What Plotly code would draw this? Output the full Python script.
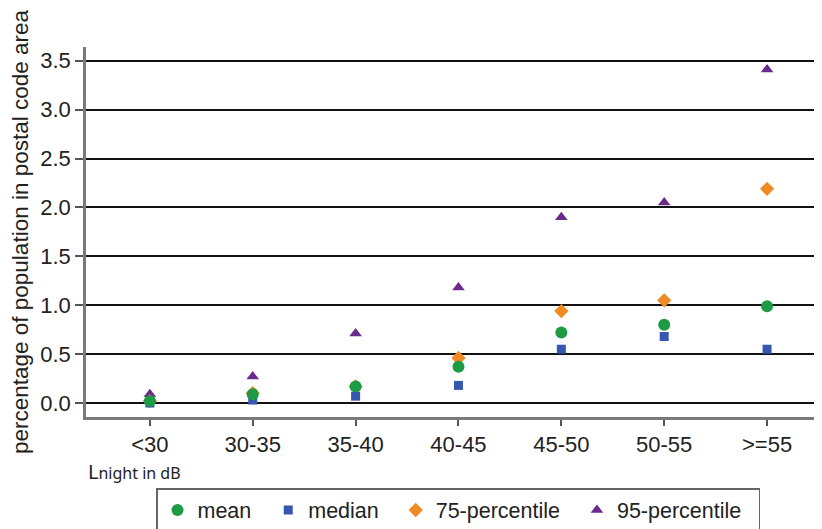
import plotly.graph_objects as go

categories = ["<30", "30-35", "35-40", "40-45", "45-50", "50-55", ">=55"]
mean_vals = [0.02, 0.09, 0.17, 0.37, 0.72, 0.80, 0.99]
median_vals = [0.00, 0.03, 0.07, 0.18, 0.55, 0.68, 0.55]
p75_vals = [0.02, 0.10, 0.17, 0.46, 0.94, 1.05, 2.19]
p95_vals = [0.09, 0.27, 0.71, 1.18, 1.90, 2.05, 3.41]
y_ticks = [0.0, 0.5, 1.0, 1.5, 2.0, 2.5, 3.0, 3.5]
y_tick_labels = ["0.0", "0.5", "1.0", "1.5", "2.0", "2.5", "3.0", "3.5"]

FONT = "Liberation Sans, Arial, Helvetica, sans-serif"
xpos = list(range(len(categories)))
PAD = "\u00a0\u00a0"

# the page body has an 8px default margin, so the figure is sized to fill the rest
W, H = 814, 521

fig = go.Figure()
# drawn back-to-front: 95p, 75p, median, mean (mean on top)
fig.add_trace(go.Scatter(x=xpos, y=p95_vals, mode="markers", name="95-percentile" + PAD,
                         legendrank=4,
                         marker=dict(symbol="triangle-up", size=11, color="#6b2a8c")))
fig.add_trace(go.Scatter(x=xpos, y=p75_vals, mode="markers", name="75-percentile" + PAD,
                         legendrank=3,
                         marker=dict(symbol="diamond", size=11, color="#f08a24")))
fig.add_trace(go.Scatter(x=xpos, y=median_vals, mode="markers", name="median" + PAD,
                         legendrank=2,
                         marker=dict(symbol="square", size=9, color="#3557b0")))
fig.add_trace(go.Scatter(x=xpos, y=mean_vals, mode="markers", name="mean" + PAD,
                         legendrank=1,
                         marker=dict(symbol="circle", size=12, color="#1f9a45")))

fig.update_layout(
    width=W, height=H,
    margin=dict(l=78, r=0, t=39, b=112, autoexpand=False),
    paper_bgcolor="white", plot_bgcolor="white",
    font=dict(family=FONT, size=22, color="#222222"),
    showlegend=True,
    legend=dict(orientation="h",
                xref="container", yref="container",
                x=148 / W, xanchor="left", y=1 - 480 / H, yanchor="top",
                bordercolor="#666666", borderwidth=1.5, bgcolor="white",
                font=dict(family=FONT, size=21.5, color="#222222"),
                itemwidth=30, tracegroupgap=0),
    xaxis=dict(
        range=[-0.621, 6.534],
        tickmode="array", tickvals=xpos, ticktext=categories,
        showgrid=False, zeroline=False, automargin=False,
        showline=True, linecolor="#7a7a7a", linewidth=2.5,
        ticks="outside", ticklen=6, tickwidth=1.5, tickcolor="#555555",
        tickfont=dict(family=FONT, size=22, color="#222222"),
    ),
    yaxis=dict(
        range=[-0.143, 3.64],
        tickmode="array", tickvals=y_ticks, ticktext=y_tick_labels,
        showgrid=True, gridcolor="#111111", gridwidth=2,
        zeroline=False, automargin=False,
        showline=True, linecolor="#7a7a7a", linewidth=2.5,
        ticks="outside", ticklen=8, tickwidth=1.5, tickcolor="#555555",
        tickfont=dict(family=FONT, size=22, color="#222222"),
        title=dict(text="percentage of population in postal code area",
                   font=dict(family=FONT, size=22.5, color="#222222"), standoff=10),
    ),
    annotations=[dict(
        xref="paper", yref="paper", x=0.0, y=-0.147, xanchor="left", yanchor="middle",
        showarrow=False,
        text="<span style='font-size:20px'>L</span>night in dB",
        font=dict(family="Noto Sans, Open Sans, sans-serif", size=16, color="#222222"),
    )],
)

fig.write_html("out.html")
